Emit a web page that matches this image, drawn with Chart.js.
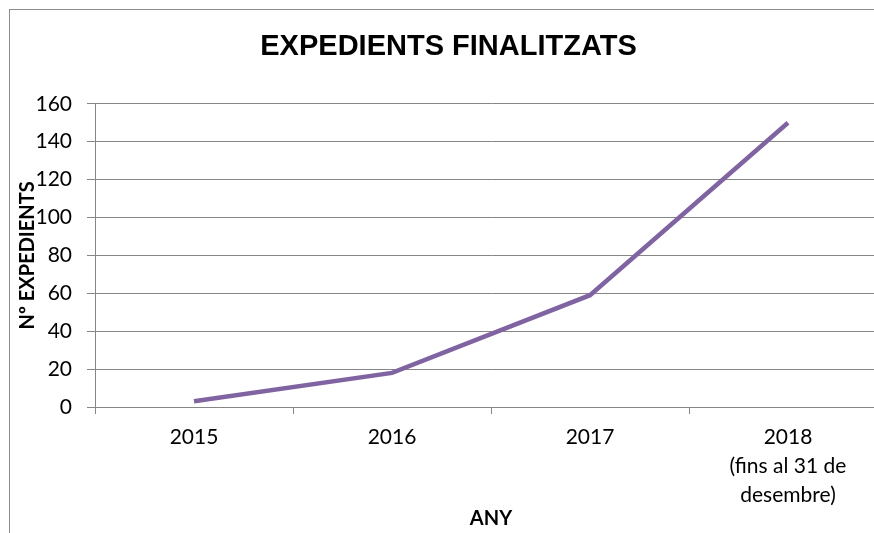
<!DOCTYPE html>
<html>
<head>
<meta charset="utf-8">
<script src="https://cdn.jsdelivr.net/npm/chart.js@4/dist/chart.umd.min.js"></script>
<style>
    html, body { margin: 0; padding: 0; overflow: hidden; background: #fff; }
    #frame {
        position: absolute;
        left: 9px;
        top: 9px;
        width: 864px;
        height: 523px;
        overflow: hidden;
        border-left: 1px solid #8c8c8c;
        border-top: 1px solid #8c8c8c;
    }
    #grafic { position: absolute; left: 0; top: 0; }
</style>
</head>
<body>
<div id="frame">
    <canvas id="grafic" width="877" height="523"></canvas>
</div>
<script>
// dades del gràfic
const anys = [
    '2015',
    '2016',
    '2017',
    ['2018', '(fins al 31 de', 'desembre)']
];
const expedients = [3, 18, 59, 150];
const titol = 'EXPEDIENTS FINALITZATS';
const titolEixX = 'ANY';
const titolEixY = 'Nº EXPEDIENTS';

const GraficExpedients = {
    chart: null,

    init() {
        this.render();
    },

    render() {
        const canvas = document.getElementById('grafic');
        if (!canvas) return;

        const fontTicks = { family: 'Lato', size: 21, lineHeight: 1.38 };
        const fontTitols = { family: 'Lato', size: 20, weight: 'bold' };

        this.chart = new Chart(canvas, {
            type: 'line',
            data: {
                labels: anys,
                datasets: [{
                    data: expedients,
                    borderColor: '#8064A2',
                    borderWidth: 4.5,
                    pointRadius: 0,
                    tension: 0,
                    fill: false
                }]
            },
            options: {
                responsive: false,
                animation: false,
                layout: { padding: 0 },
                plugins: {
                    legend: { display: false },
                    tooltip: { enabled: false },
                    title: {
                        display: true,
                        text: titol,
                        color: '#000',
                        font: { family: 'Liberation Sans', size: 29, weight: 'bold', lineHeight: 1.2 },
                        padding: { top: 20, bottom: 39 }
                    }
                },
                scales: {
                    x: {
                        offset: true,
                        afterFit: (scale) => { scale.height = 126; },
                        grid: {
                            offset: true,
                            drawOnChartArea: false,
                            tickLength: 7,
                            color: '#868686'
                        },
                        border: { color: '#868686', width: 1 },
                        ticks: {
                            color: '#000',
                            font: fontTicks,
                            padding: 9,
                            maxRotation: 0,
                            autoSkip: false
                        },
                        title: {
                            display: true,
                            text: titolEixX,
                            color: '#000',
                            font: fontTitols,
                            padding: { top: 4, bottom: 2 }
                        }
                    },
                    y: {
                        min: 0,
                        max: 160,
                        afterFit: (scale) => { scale.width = 85; },
                        grid: {
                            tickLength: 8,
                            color: '#868686'
                        },
                        border: { color: '#868686', width: 1 },
                        ticks: {
                            stepSize: 20,
                            color: '#000',
                            font: fontTicks,
                            padding: 15
                        },
                        title: {
                            display: true,
                            text: titolEixY,
                            color: '#000',
                            font: fontTitols,
                            padding: { top: 6, bottom: 0 }
                        }
                    }
                }
            }
        });
    }
};

GraficExpedients.init();
</script>
</body>
</html>
